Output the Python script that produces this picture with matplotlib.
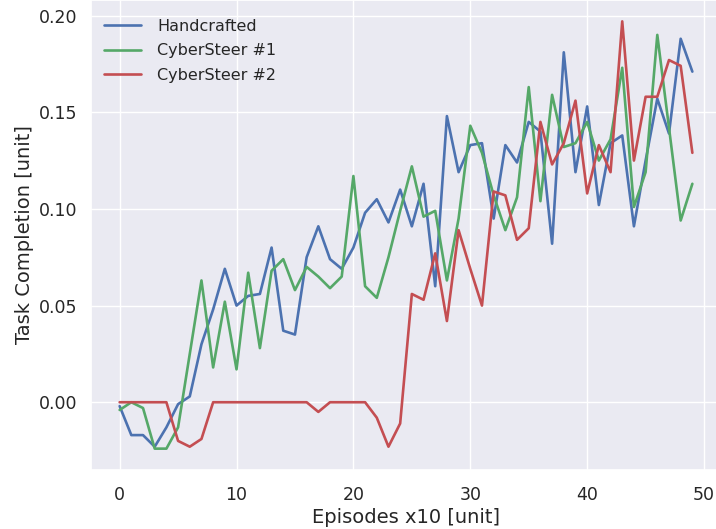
import matplotlib
matplotlib.use("Agg")
import matplotlib.pyplot as plt
import seaborn as sns
import numpy as np

sns.set_theme(style="darkgrid")
plt.rcParams['font.family'] = ['DejaVu Sans']

episodes = list(range(50))

handcrafted = [-0.002, -0.017, -0.017, -0.023, -0.013, -0.001, 0.003, 0.030, 0.048, 0.069,
               0.050, 0.055, 0.056, 0.080, 0.037, 0.035, 0.075, 0.091, 0.074, 0.069,
               0.080, 0.098, 0.105, 0.093, 0.110, 0.091, 0.113, 0.060, 0.148, 0.119,
               0.133, 0.134, 0.095, 0.133, 0.124, 0.145, 0.140, 0.082, 0.181, 0.119,
               0.153, 0.102, 0.134, 0.138, 0.091, 0.125, 0.157, 0.139, 0.188, 0.171]

cybersteer1 = [-0.004, 0.000, -0.003, -0.024, -0.024, -0.013, 0.025, 0.063, 0.018, 0.052,
               0.017, 0.067, 0.028, 0.068, 0.074, 0.058, 0.070, 0.065, 0.059, 0.065,
               0.117, 0.060, 0.054, 0.075, 0.099, 0.122, 0.096, 0.099, 0.063, 0.095,
               0.143, 0.129, 0.107, 0.089, 0.106, 0.163, 0.104, 0.159, 0.132, 0.134,
               0.145, 0.125, 0.136, 0.173, 0.101, 0.119, 0.190, 0.142, 0.094, 0.113]

cybersteer2 = [0.000, 0.000, 0.000, 0.000, 0.000, -0.020, -0.023, -0.019, 0.000, 0.000,
               0.000, 0.000, 0.000, 0.000, 0.000, 0.000, 0.000, -0.005, 0.000, 0.000,
               0.000, 0.000, -0.008, -0.023, -0.011, 0.056, 0.053, 0.077, 0.042, 0.089,
               0.069, 0.050, 0.109, 0.107, 0.084, 0.090, 0.145, 0.123, 0.134, 0.156,
               0.108, 0.133, 0.119, 0.197, 0.125, 0.158, 0.158, 0.177, 0.174, 0.129]

series_names = ["Handcrafted", "CyberSteer #1", "CyberSteer #2"]
colors = ["#4C72B0", "#55A868", "#C44E52"]

fig = plt.figure(figsize=(7.16, 5.29), dpi=100)
ax = fig.add_axes([91/716, 59/529, 630/716, 470/529])

for vals, name, c in zip([handcrafted, cybersteer1, cybersteer2], series_names, colors):
    ax.plot(episodes, vals, label=name, linewidth=1.9, color=c)

ax.set_xlabel("Episodes x10 [unit]", fontsize=14, color="#262626", labelpad=3)
ax.set_ylabel("Task Completion [unit]", fontsize=14, color="#262626", labelpad=4)
ax.tick_params(axis="x", labelsize=12.5, labelcolor="#262626", pad=5.5)
ax.tick_params(axis="y", labelsize=12.5, labelcolor="#262626", pad=3.5)
ax.legend(loc="upper left", bbox_to_anchor=(0.0, 0.987), fontsize=11.5, frameon=False,
          handlelength=2.3, handletextpad=1.05, labelspacing=0.6, borderaxespad=0.4)

fig.savefig("out.png", dpi=100)
